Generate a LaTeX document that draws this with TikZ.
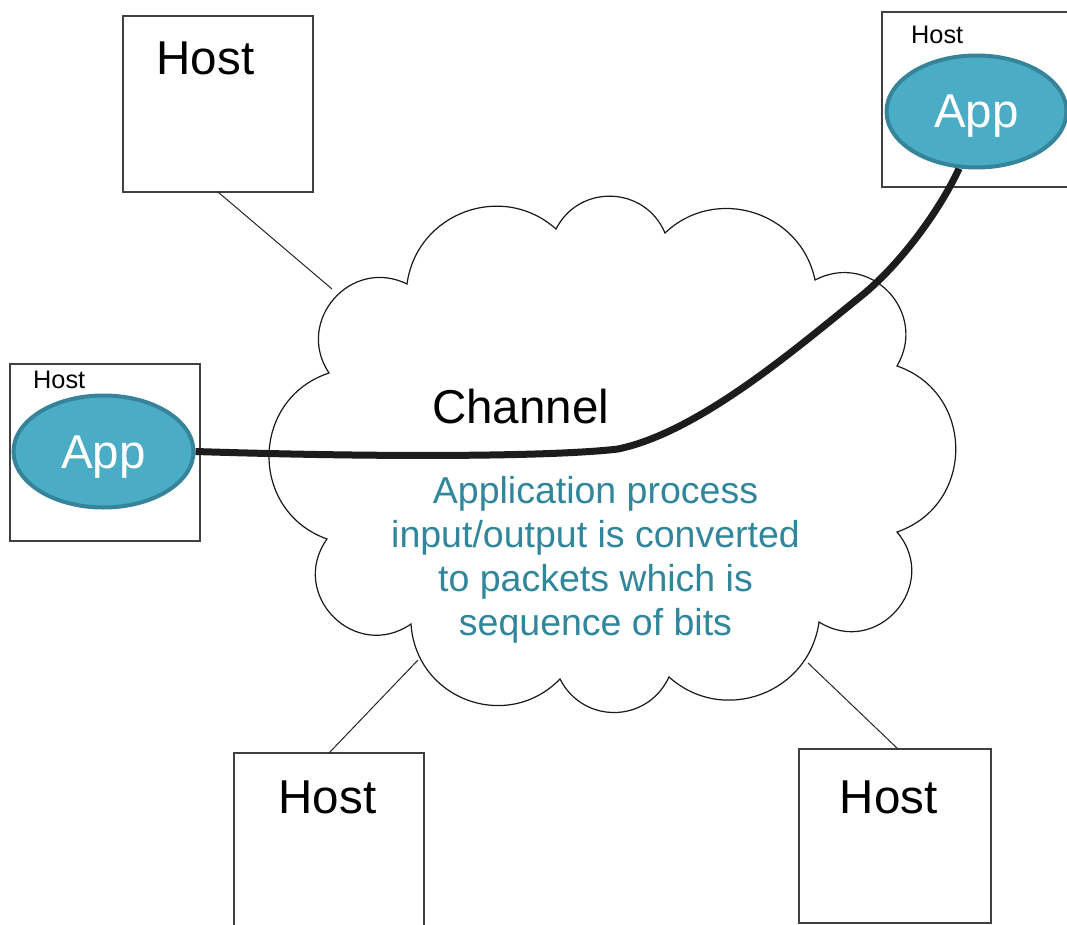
\documentclass[tikz,border=0pt]{standalone}
\usepackage{fontspec}
\setmainfont{Liberation Sans}
\usetikzlibrary{shapes.geometric}
\definecolor{appfill}{HTML}{4BACC6}
\definecolor{appedge}{HTML}{35849A}
\definecolor{notetext}{HTML}{31869B}
\definecolor{boxedge}{HTML}{404040}
\definecolor{wire}{HTML}{1C1C1C}
\pgfdeclarelayer{front}
\pgfsetlayers{main,front}
\begin{document}
\begin{tikzpicture}[x=1pt,y=-1pt,
  hostbox/.style={draw=boxedge, line width=1.1pt, inner sep=0pt, outer sep=0pt, anchor=north west},
  linkline/.style={draw=black!85, line width=1pt},
  cloudline/.style={draw=black!90, line width=1.2pt},
  bigtext/.style={anchor=base west, inner sep=0pt, font=\fontsize{47.5}{57}\selectfont},
  smalltext/.style={anchor=base west, inner sep=0pt, font=\fontsize{25.3}{30}\selectfont},
  notestyle/.style={anchor=base, inner sep=0pt, text=notetext, font=\fontsize{37.5}{45}\selectfont},
  appnode/.style={ellipse, fill=appfill, draw=appedge, line width=4pt, minimum width=180pt, minimum height=112pt, inner sep=0pt, text=white, font=\fontsize{47.5}{57}\selectfont, text height=33pt, text depth=0pt},
  wirepath/.style={draw=wire, line width=7pt}
]
\useasboundingbox (0,0) rectangle (1067,925);
\clip (0,0) rectangle (1067,925);
\fill[white] (0,0) rectangle (1067,925);

% host boxes
\node[hostbox, minimum width=190pt, minimum height=176pt] (hTL) at (123,16) {};
\node[hostbox, minimum width=190pt, minimum height=175pt] (hTR) at (882,12) {};
\node[hostbox, minimum width=190pt, minimum height=177pt] (hL) at (10,364) {};
\node[hostbox, minimum width=190pt, minimum height=176pt] (hBL) at (234,753) {};
\node[hostbox, minimum width=192pt, minimum height=174pt] (hBR) at (799,749) {};

% host labels
\node[bigtext] (lTL) at (156.5,75) {Host};
\node[bigtext] (lBL) at (278.5,813) {Host};
\node[bigtext] (lBR) at (839.5,813) {Host};
\node[smalltext] (lTR) at (911,44) {Host};
\node[smalltext] (lL) at (33,388) {Host};

% cloud cusps
\coordinate (P1) at (329,373);
\coordinate (P2) at (407,284);
\coordinate (P3) at (556,229);
\coordinate (P4) at (665,233);
\coordinate (P5) at (815,280);
\coordinate (P6) at (897,366);
\coordinate (P7) at (897,532);
\coordinate (P8) at (819,622);
\coordinate (P9) at (669,677);
\coordinate (P10) at (560,679);
\coordinate (P11) at (411,624);
\coordinate (P12) at (327,539);

\draw[cloudline] (P1)
  to[bend left=75, looseness=1.35] (P2)
  to[bend left=62, looseness=1.16] (P3)
  to[bend left=65, looseness=1.2] (P4)
  to[bend left=61, looseness=1.14] (P5)
  to[bend left=74, looseness=1.34] (P6)
  to[bend left=71, looseness=1.28] (P7)
  to[bend left=81, looseness=1.48] (P8)
  to[bend left=62, looseness=1.16] (P9)
  to[bend left=64, looseness=1.2] (P10)
  to[bend left=66, looseness=1.22] (P11)
  to[bend left=80, looseness=1.45] (P12)
  to[bend left=71, looseness=1.28] (P1) -- cycle;

% points where the links touch the cloud
\coordinate (cTL) at (332,289);
\coordinate (cBL) at (418,660);
\coordinate (cBR) at (808,663);

\draw[linkline] (hTL.south) -- (cTL);
\draw[linkline] (hBL.north) -- (cBL);
\draw[linkline] ([xshift=3pt]hBR.north) -- (cBR);

% texts in cloud
\node[bigtext] (chan) at (432,423) {Channel};
\node[notestyle] (n1) at (595.5,503) {Application process};
\node[notestyle] (n2) at (595.5,547) {input/output is converted};
\node[notestyle] (n3) at (595.5,591) {to packets which is};
\node[notestyle] (n4) at (595.5,635) {sequence of bits};

% applications
\begin{pgfonlayer}{front}
\node[appnode] (appL) at (103.5,451.5) {App};
\node[appnode] (appR) at (976.5,111.5) {App};
\end{pgfonlayer}

% connection
\draw[wirepath] (appL.east) .. controls (400,458) and (560,456) .. (618,449)
  .. controls (700,432) and (800,345) .. (860,297)
  .. controls (900,265) and (940,210) .. (appR.253);
\end{tikzpicture}
\end{document}
